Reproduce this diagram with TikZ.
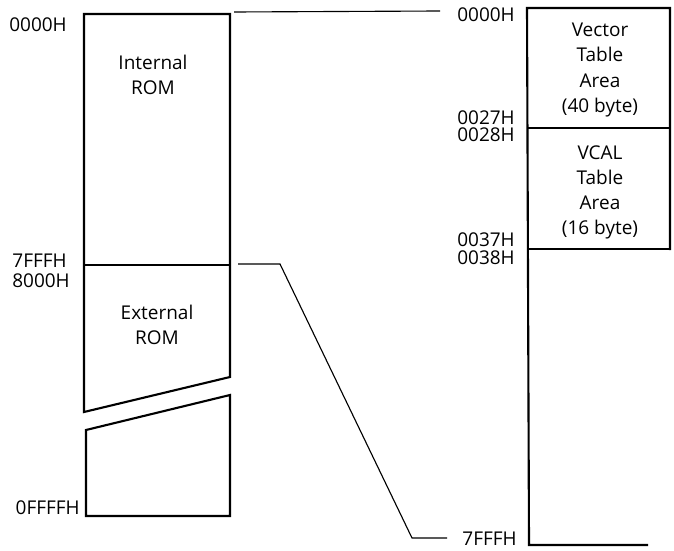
\documentclass[tikz,border=0pt]{standalone}
\usepackage{fontspec}
\setmainfont{Open Sans}
\usetikzlibrary{positioning}

\begin{document}
\begin{tikzpicture}[x=0.025cm,y=-0.025cm,
  addr/.style={anchor=east,inner sep=0pt,font=\fontsize{13.5}{15}\selectfont},
  area/.style={align=center,inner sep=0pt,font=\fontsize{13.5}{17.8}\selectfont},
  mem/.style={line width=1.5pt,line join=miter},
  divl/.style={line width=1.1pt},
  link/.style={line width=0.8pt}]
\useasboundingbox (0,0) rectangle (674,550);
% program memory map (left)
\coordinate (intTL) at (84,14);
\coordinate (intTR) at (230,14);
\coordinate (cutL) at (84,412);
\coordinate (cutR) at (230,377);
\coordinate (lowL) at (86,430);
\coordinate (lowR) at (230,395);
\coordinate (botL) at (86,516);
\coordinate (botR) at (230,516);
\coordinate (divL) at (84,265);
\coordinate (divR) at (230,265);
\draw[mem] (intTL) -- (intTR) -- (cutR) -- (cutL) -- cycle;
\draw[mem] (lowR) -- (lowL) -- (botL) -- (botR) -- cycle;
\draw[divl] (divL) -- (divR);
\node[area] (irom) at (153,75) {Internal\\ROM};
\node[area] (erom) at (157,325) {External\\ROM};
\node[addr] (a0000) at (67,25) {0000H};
\node[addr] (a7fff) at (67,261) {7FFFH};
\node[addr] (a8000) at (70,281) {8000H};
\node[addr] (affff) at (80,508) {0FFFFH};
% vector area map (right)
\coordinate (vecTL) at (527,8);
\coordinate (vecTR) at (670,8);
\coordinate (vecBL) at (529,545);
\coordinate (vecBR) at (648,545);
\coordinate (vecER) at (670,250);
\draw[mem] (vecER) -- (vecTR) -- (vecTL) -- (vecBL) -- (vecBR);
\draw[divl] (527,128) -- (670,128);
\draw[divl] (528,249) -- (670,249);
\node[area] (vtab) at (600,70) {Vector\\Table\\Area\\(40 byte)};
\node[area] (vcal) at (600,192) {VCAL\\Table\\Area\\(16 byte)};
\node[addr] (b0000) at (515,15) {0000H};
\node[addr] (b0027) at (515,118) {0027H};
\node[addr] (b0028) at (515,135) {0028H};
\node[addr] (b0037) at (515,240) {0037H};
\node[addr] (b0038) at (515,258) {0038H};
\node[addr] (b7fff) at (517,539) {7FFFH};
% expansion lines
\coordinate (topA) at (234,12);
\coordinate (topB) at (440,11);
\coordinate (midA) at (238,264);
\coordinate (midB) at (280,264);
\coordinate (endA) at (412,538);
\coordinate (endB) at (447,538);
\draw[link] (topA) -- (topB);
\draw[link] (midA) -- (midB) -- (endA) -- (endB);
\end{tikzpicture}
\end{document}
